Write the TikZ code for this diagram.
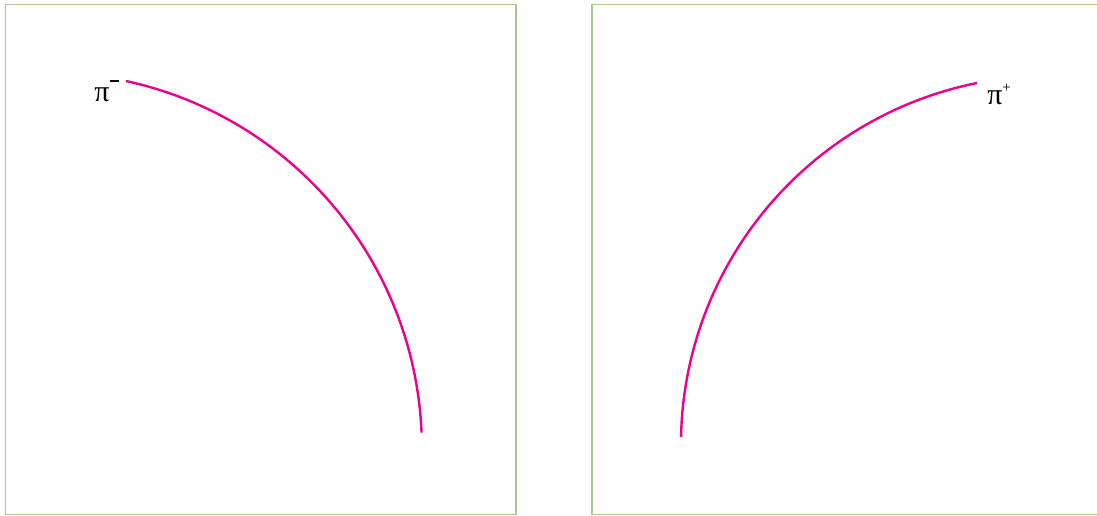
\documentclass[tikz,border=0pt]{standalone}
\usepackage{fontspec}
\setmainfont{Liberation Serif}
\definecolor{frame}{HTML}{A9C98F}
\definecolor{track}{HTML}{EC008C}
\tikzset{
  panel/.style={draw=frame, line width=1.3pt},
  trackline/.style={draw=track, line width=2.4pt},
  lbl/.style={font=\fontsize{30}{30}\selectfont, inner sep=0pt}
}
\begin{document}
\begin{tikzpicture}[x=1pt,y=-1pt]
\useasboundingbox (0,0) rectangle (1097,515);
\clip (0,0) rectangle (1097,515);
% panels
\draw[panel] (5.5,4.5) rectangle (516,514.5);
\draw[panel] (1105,4.5) -- (592,4.5) -- (592,514.5) -- (1105,514.5);
% tracks
\draw[trackline] (126,81) arc[start angle=-77.7, end angle=-2.4, radius=376];
\draw[trackline] (977,83) arc[start angle=-101.4, end angle=-178.8, radius=369];
% labels
\node[lbl, anchor=base] (pim) at (102,101) {π};
\node[inner sep=0pt, anchor=center] (pimsign) at (114.5,80.5) {\rule{9pt}{2pt}};
\node[lbl, anchor=base] (pip) at (995,104) {π};
\node[inner sep=0pt, anchor=center, font=\fontsize{15}{15}\selectfont] (pipsign) at (1006.5,88) {+};
\end{tikzpicture}
\end{document}
